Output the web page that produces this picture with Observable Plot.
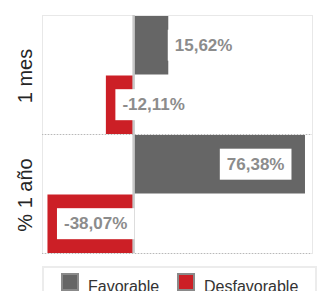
<!DOCTYPE html>
<html>
<head>
<meta charset="utf-8">
<script src="https://cdn.jsdelivr.net/npm/d3@7"></script>
<script src="https://cdn.jsdelivr.net/npm/@observablehq/plot@0.6"></script>
<style>
  html, body { margin: 0; padding: 0; background: #fff; overflow: hidden; }
  #wrap { position: relative; width: 333px; height: 291px; font-family: "Liberation Sans", Arial, sans-serif; }
  .legend { position: absolute; left: 42px; top: 266px; width: 275px; height: 34px; box-sizing: border-box; border: 2px solid #ececec; }
  .sw { position: absolute; top: 5px; width: 18px; height: 18px; box-sizing: border-box; border: 2px solid #8a8a8a; }
  .lt { position: absolute; top: 11px; font-size: 16px; line-height: 16px; color: #333; white-space: nowrap; }
</style>
</head>
<body>
<div id="wrap"></div>
<script>
const periods = ["1 mes", "% 1 año"];
const series = ["Favorable", "Desfavorable"];
const favorable = [15.62, 76.38];
const desfavorable = [-12.11, -38.07];
const colors = ["#666666", "#cc1f26"];

const rows = [];
periods.forEach((p, i) => {
  rows.push({period: p, series: series[0], idx: 0, value: favorable[i]});
  rows.push({period: p, series: series[1], idx: 1, value: desfavorable[i]});
});
const fmt = v => v.toFixed(2).replace(".", ",") + "%";
const labelStyle = {fontSize: 17, fontWeight: "bold", fill: "#8c8c8c"};

const chart = Plot.plot({
  width: 333,
  height: 262,
  marginLeft: 42,
  marginRight: 21,
  marginTop: 15,
  marginBottom: 9,
  style: {fontFamily: "Liberation Sans, Arial, sans-serif", background: "white"},
  x: {domain: [-40.5, 79.5], axis: null},
  y: {domain: [0, 2], reverse: true, axis: null},
  fy: {domain: periods, padding: 0, axis: null},
  color: {domain: series, range: colors},
  marks: [
    Plot.frame({stroke: "#e8e8e8"}),
    Plot.rectX(rows, {fy: "period", x1: 0, x2: "value", y1: d => d.idx, y2: d => d.idx + 1, fill: "series", insetTop: 1}),
    Plot.ruleX([0], {stroke: "#c8c8c8", strokeWidth: 2.5}),
    Plot.ruleY([2], {stroke: "#b8b8b8", strokeDasharray: "1,2"}),
    Plot.text(rows.filter(d => d.value > 0 && d.value <= 30), {fy: "period", x: "value", y: d => d.idx + 0.5, text: d => fmt(d.value), textAnchor: "start", dx: 6, ...labelStyle}),
    Plot.text(rows.filter(d => d.value > 30), {fy: "period", x: "value", y: d => d.idx + 0.5, text: d => fmt(d.value), textAnchor: "end", dx: -21, ...labelStyle}),
    Plot.text(rows.filter(d => d.value < 0), {fy: "period", x: "value", y: d => d.idx + 0.5, text: d => fmt(d.value), textAnchor: "start", dx: 16, ...labelStyle}),
    Plot.text(periods, {fy: d => d, text: d => d, frameAnchor: "left", textAnchor: "middle", rotate: -90, dx: -17, dy: 1, fontSize: 20, fill: "#252525"})
  ]
});

const wrap = document.getElementById("wrap");
wrap.appendChild(chart);

// white label backgrounds behind value labels
chart.querySelectorAll("text").forEach(t => {
  if (!/^-?\d/.test(t.textContent)) return;
  const b = t.getBBox();
  const r = document.createElementNS("http://www.w3.org/2000/svg", "rect");
  const padX = 7, h = 31;
  r.setAttribute("x", b.x - padX);
  r.setAttribute("width", b.width + 2 * padX);
  r.setAttribute("y", b.y + b.height / 2 - h / 2);
  r.setAttribute("height", h);
  r.setAttribute("fill", "white");
  r.setAttribute("stroke", "none");
  const tr = t.getAttribute("transform");
  if (tr) r.setAttribute("transform", tr);
  t.parentNode.insertBefore(r, t);
});

// legend
const legend = document.createElement("div");
legend.className = "legend";
const swLeft = [17, 133];
const txtLeft = [44, 160];
series.forEach((s, i) => {
  const sw = document.createElement("div");
  sw.className = "sw";
  sw.style.left = swLeft[i] + "px";
  sw.style.background = colors[i];
  legend.appendChild(sw);
  const lt = document.createElement("span");
  lt.className = "lt";
  lt.style.left = txtLeft[i] + "px";
  lt.textContent = s;
  legend.appendChild(lt);
});
wrap.appendChild(legend);
</script>
</body>
</html>
